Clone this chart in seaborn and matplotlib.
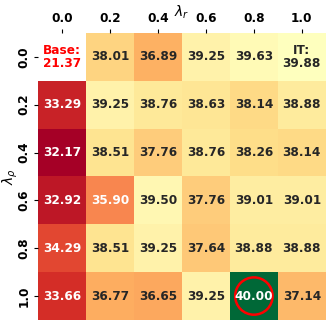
import numpy as np
import matplotlib
matplotlib.use("Agg")
import matplotlib.pyplot as plt
from matplotlib.colors import TwoSlopeNorm
from matplotlib.patches import Circle
import seaborn as sns

lambda_r = ["0.0", "0.2", "0.4", "0.6", "0.8", "1.0"]
lambda_rho = ["0.0", "0.2", "0.4", "0.6", "0.8", "1.0"]
row_00 = [21.37, 38.01, 36.89, 39.25, 39.63, 39.88]
row_02 = [33.29, 39.25, 38.76, 38.63, 38.14, 38.88]
row_04 = [32.17, 38.51, 37.76, 38.76, 38.26, 38.14]
row_06 = [32.92, 35.90, 39.50, 37.76, 39.01, 39.01]
row_08 = [34.29, 38.51, 39.25, 37.64, 38.88, 38.88]
row_10 = [33.66, 36.77, 36.65, 39.25, 40.00, 37.14]
base_value = 21.37
it_value = 39.88
best_value = 40.00

data = np.array([row_00, row_02, row_04, row_06, row_08, row_10])
mask = np.zeros_like(data, dtype=bool)
mask[0, 0] = True

labels = np.array([[f"{v:.2f}" for v in r] for r in data], dtype=object)
labels[0, 5] = f"IT:\n{it_value:.2f}"

others = data[~mask]
norm = TwoSlopeNorm(vmin=others.min(), vcenter=it_value, vmax=best_value)

fs = 8.7
fig = plt.figure(figsize=(3.32, 3.25), dpi=100)
ax = fig.add_axes([0.1145, 0.0155, 0.867, 0.883])
sns.heatmap(data, mask=mask, cmap="RdYlGn", norm=norm, annot=labels, fmt="",
            annot_kws={"fontsize": fs, "fontweight": "bold"},
            cbar=False, ax=ax, xticklabels=lambda_r, yticklabels=lambda_rho)

ax.text(0.5, 0.5, f"Base:\n{base_value:.2f}", ha="center", va="center",
        color="red", fontsize=fs, fontweight="bold")

for t in ax.texts:
    t.set_linespacing(1.05)

bi, bj = np.unravel_index(np.argmax(np.where(mask, -np.inf, data)), data.shape)
ax.add_patch(Circle((bj + 0.5, bi + 0.5), 0.39, fill=False, edgecolor="red", linewidth=1.8))

ax.xaxis.tick_top()
ax.xaxis.set_label_position("top")
ax.tick_params(axis="both", length=3, pad=2.5)
ax.set_xlabel(r"$\lambda_r$", fontsize=10, labelpad=-3)
ax.set_ylabel(r"$\lambda_\rho$", fontsize=10, labelpad=-2)
plt.setp(ax.get_xticklabels(), fontweight="bold", fontsize=fs, rotation=0)
plt.setp(ax.get_yticklabels(), fontweight="bold", fontsize=fs, rotation=90, va="center")

fig.savefig("out.png", dpi=100)
